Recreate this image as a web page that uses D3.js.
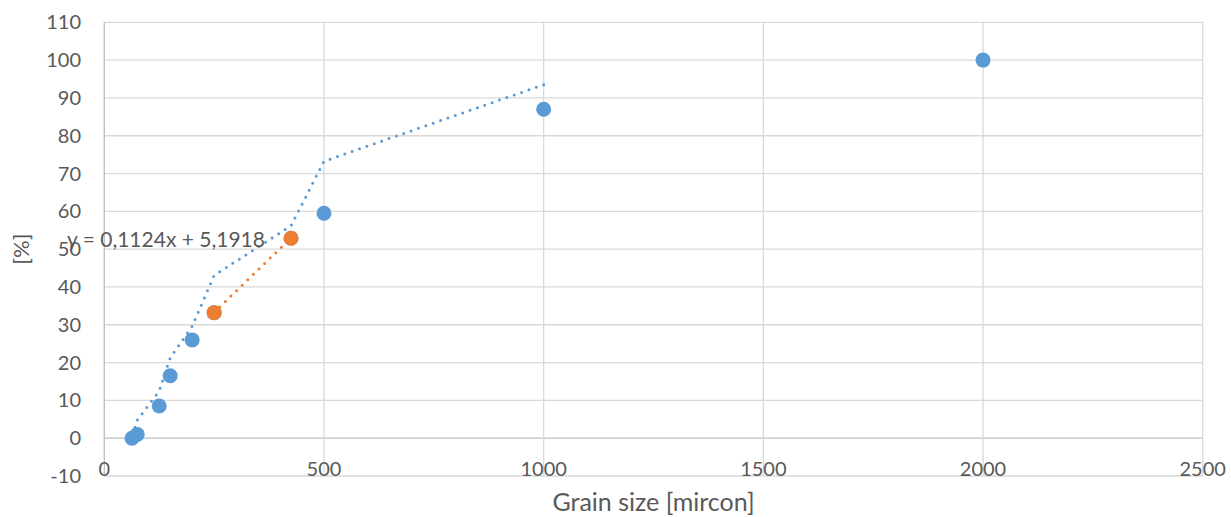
<!DOCTYPE html>
<html>
<head>
<meta charset="utf-8">
<script src="https://cdn.jsdelivr.net/npm/d3@7"></script>
<style>
  html, body { margin: 0; padding: 0; background: #fff; }
  svg text { font-family: Lato, "Open Sans", sans-serif; fill: #595959; }
</style>
</head>
<body>
<div id="chart"></div>
<script>
// -----------------------------
// Data (series kept in worksheet order)
// -----------------------------
const blueX = [2000, 1000, 500, 425, 250, 200, 150, 125, 75, 63];
const blueY = [100, 87, 59.5, 52.9, 33.2, 26, 16.5, 8.5, 1, 0];
const orangeX = [250, 425];
const orangeY = [33.2, 52.9];
const trendSlope = 0.1124;
const trendIntercept = 5.1918;
const trendLabel = "y = 0,1124x + 5,1918";
const xTicks = [0, 500, 1000, 1500, 2000, 2500];
const yTicks = [-10, 0, 10, 20, 30, 40, 50, 60, 70, 80, 90, 100, 110];

const width = 1231, height = 517;
const blue = "#5B9BD5", orange = "#ED7D31";

const svg = d3.select("#chart").append("svg")
  .attr("width", width)
  .attr("height", height);

const x = d3.scaleLinear().domain([0, 2500]).range([104.3, 1202.7]);
const y = d3.scaleLinear().domain([-10, 110]).range([476, 22.3]);

// -----------------------------
// Gridlines
// -----------------------------
svg.append("g").selectAll("line")
  .data(yTicks)
  .join("line")
  .attr("x1", x(0)).attr("x2", x(2500))
  .attr("y1", d => y(d)).attr("y2", d => y(d))
  .attr("stroke", d => d === 0 ? "#BFBFBF" : "#D9D9D9")
  .attr("stroke-width", 1.3);

svg.append("g").selectAll("line")
  .data(xTicks)
  .join("line")
  .attr("x1", d => x(d)).attr("x2", d => x(d))
  .attr("y1", y(110)).attr("y2", y(-10))
  .attr("stroke", d => d === 0 ? "#BFBFBF" : "#D9D9D9")
  .attr("stroke-width", 1.3);

// -----------------------------
// Tick labels
// -----------------------------
svg.append("g").selectAll("text")
  .data(yTicks)
  .join("text")
  .attr("x", 81)
  .attr("y", d => y(d))
  .attr("dy", "0.35em")
  .attr("text-anchor", "end")
  .style("font-size", "20px")
  .text(d => d);

svg.append("g").selectAll("text")
  .data(xTicks)
  .join("text")
  .attr("x", d => x(d))
  .attr("y", 469)
  .attr("dy", "0.35em")
  .attr("text-anchor", "middle")
  .style("font-size", "20px")
  .text(d => d);

// Axis titles
svg.append("text")
  .attr("x", x(1250))
  .attr("y", 502)
  .attr("dy", "0.35em")
  .attr("text-anchor", "middle")
  .style("font-size", "25px")
  .text("Grain size [mircon]");

svg.append("text")
  .attr("transform", `translate(21, ${y(50)}) rotate(-90)`)
  .attr("dy", "0.35em")
  .attr("text-anchor", "middle")
  .style("font-size", "22px")
  .text("[%]");

// -----------------------------
// Markers
// -----------------------------
const bluePts = blueX.map((v, i) => ({ x: v, y: blueY[i] }));
const orangePts = orangeX.map((v, i) => ({ x: v, y: orangeY[i] }));

svg.append("g").selectAll("circle")
  .data(bluePts)
  .join("circle")
  .attr("cx", d => x(d.x)).attr("cy", d => y(d.y))
  .attr("r", 7.5)
  .attr("fill", blue);

svg.append("g").selectAll("circle")
  .data(orangePts)
  .join("circle")
  .attr("cx", d => x(d.x)).attr("cy", d => y(d.y))
  .attr("r", 7.5)
  .attr("fill", orange);

// -----------------------------
// Trendlines
// -----------------------------
// 2-period moving average, in series order
const movingAvg = bluePts.slice(1).map((d, i) => ({ x: d.x, y: (d.y + bluePts[i].y) / 2 }));

const line = d3.line().x(d => x(d.x)).y(d => y(d.y));

svg.append("path")
  .datum(movingAvg)
  .attr("d", line)
  .attr("fill", "none")
  .attr("stroke", blue)
  .attr("stroke-width", 3)
  .attr("stroke-linecap", "round")
  .attr("stroke-dasharray", "0 7.8");

const xr = d3.extent(orangeX);
svg.append("path")
  .datum(xr.map(v => ({ x: v, y: trendSlope * v + trendIntercept })))
  .attr("d", line)
  .attr("fill", "none")
  .attr("stroke", orange)
  .attr("stroke-width", 3)
  .attr("stroke-linecap", "round")
  .attr("stroke-dasharray", "0 7.8");

svg.append("text")
  .attr("x", 67)
  .attr("y", 240)
  .attr("dy", "0.35em")
  .style("font-size", "21px")
  .text(trendLabel);
</script>
</body>
</html>
